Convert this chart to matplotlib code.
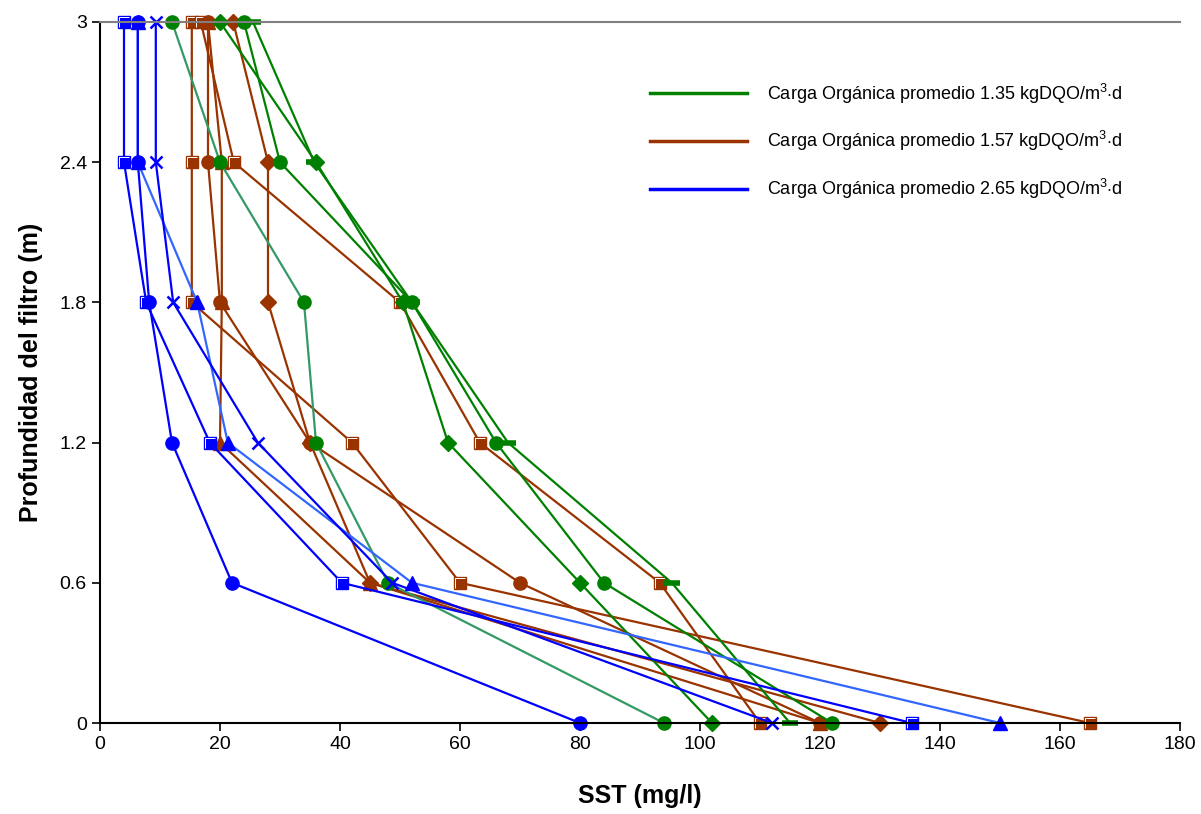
import numpy as np
import matplotlib.pyplot as plt
from matplotlib.path import Path

plt.rcParams['font.family'] = ['Liberation Sans', 'DejaVu Sans']
plt.rcParams['mathtext.fontset'] = 'custom'
plt.rcParams['mathtext.rm'] = 'Liberation Sans'

# ---------- data ----------
depth = [3, 2.4, 1.8, 1.2, 0.6, 0]

# carga 1.35 kgDQO/m3.d (green)
g_circle_a = [12, 20, 34, 36, 48, 94]
g_diamond = [20, 36, 50.5, 58, 80, 102]
g_circle_b = [24, 30, 52, 66, 84, 122]
g_dash = [25.5, 35.7, 52, 68, 95.3, 115]

# carga 1.57 kgDQO/m3.d (brown)
b_square_a = [15.3, 15.3, 15.3, 42, 60, 165]
b_square_b = [16.8, 22.3, 50, 63.3, 93.3, 110]
b_diamond = [22.2, 28, 28, 35, 45, 130]
b_triangle = [18, 20.3, 20.3, 20, 45, 120]
b_circle = [18, 18, 20, 35, 70, 120]

# carga 2.65 kgDQO/m3.d (blue)
a_square = [4, 4, 7.7, 18.3, 40.3, 135.3]
a_triangle = [6.3, 6.3, 16.2, 21.3, 52, 150]
a_circle = [6.3, 6.3, 8.2, 12, 22, 80]
a_cross = [9.3, 9.3, 12.2, 26.3, 48.7, 112]

labels = ['Carga Orgánica promedio 1.35 kgDQO/m$^{3}$$\\cdot$d',
          'Carga Orgánica promedio 1.57 kgDQO/m$^{3}$$\\cdot$d',
          'Carga Orgánica promedio 2.65 kgDQO/m$^{3}$$\\cdot$d']

GREEN = '#008000'
TEAL = '#339966'
BROWN = '#993300'
BLUE = '#0000FF'
LBLUE = '#3366FF'

# white "highlight" inside the Excel-style squares
L_MARK = Path([(-0.5, -0.5), (-0.5, 0.5), (0.5, 0.5)],
              [Path.MOVETO, Path.LINETO, Path.LINETO])

# ---------- helpers ----------
def series(ax, x, line, mcol, marker, ms=9, mew=1.0):
    ax.plot(x, depth, color=line, lw=1.6, marker=marker, ms=ms,
            mfc=mcol, mec=mcol, mew=mew, clip_on=False)
    if marker == 's':
        ax.plot(x, depth, ls='none', marker=L_MARK, ms=6.5, mfc='none',
                mec='white', mew=0.7, clip_on=False)

fig = plt.figure(figsize=(12.01, 8.14), dpi=100)
ax = fig.add_axes([100/1201, 1-723/814, 1080/1201, 701/814])

# brown
series(ax, b_square_a, BROWN, BROWN, 's', ms=9)
series(ax, b_square_b, BROWN, BROWN, 's', ms=9)
series(ax, b_diamond, BROWN, BROWN, 'D', ms=8.5)
series(ax, b_triangle, BROWN, BROWN, '^', ms=10.5)
series(ax, b_circle, BROWN, BROWN, 'o', ms=9.5)

# green
series(ax, g_circle_a, TEAL, GREEN, 'o', ms=9.5)
series(ax, g_diamond, GREEN, GREEN, 'D', ms=8.5)
series(ax, g_circle_b, GREEN, GREEN, 'o', ms=9.5)
series(ax, g_dash, GREEN, GREEN, '_', ms=11, mew=4)

# blue
series(ax, a_square, BLUE, BLUE, 's', ms=9)
series(ax, a_triangle, LBLUE, BLUE, '^', ms=10.5)
series(ax, a_circle, BLUE, BLUE, 'o', ms=9.5)
series(ax, a_cross, BLUE, BLUE, 'x', ms=9, mew=1.8)

# legend (lines only)
hl = [plt.Line2D([], [], color=c, lw=2.5) for c in (GREEN, BROWN, BLUE)]
ax.legend(hl, labels, loc='upper left', bbox_to_anchor=(0.509, 0.915),
          frameon=False, fontsize=13, handlelength=5.4, handletextpad=1.1,
          labelspacing=1.3, borderpad=0, borderaxespad=0)

ax.set_xlim(0, 180)
ax.set_ylim(0, 3)
ax.set_xticks(np.arange(0, 181, 20))
ax.set_yticks([0, 0.6, 1.2, 1.8, 2.4, 3])
ax.set_yticklabels(['0', '0.6', '1.2', '1.8', '2.4', '3'])
ax.tick_params(labelsize=14, length=6, width=1.2, direction='out')
ax.spines['right'].set_visible(False)
ax.spines['top'].set_color('#808080')
ax.spines['top'].set_linewidth(1.5)
ax.spines['left'].set_linewidth(1.5)
ax.spines['bottom'].set_linewidth(1.5)

ax.set_xlabel('SST (mg/l)', fontsize=18, fontweight='bold', labelpad=22)
ax.set_ylabel('Profundidad del filtro (m)', fontsize=18, fontweight='bold', labelpad=12)

fig.savefig('out.png', dpi=100)
